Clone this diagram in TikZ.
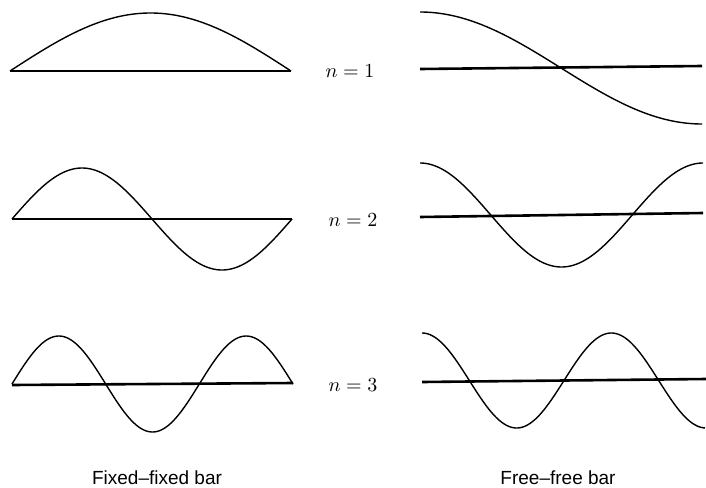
\documentclass[tikz,border=0pt]{standalone}
\usepackage{fontspec}
\newfontfamily\barfont[Ligatures=TeX]{Liberation Sans}

\begin{document}
\begin{tikzpicture}[x=0.5pt, y=-0.5pt,
				bar/.style={line width=1.3pt},   % Balkenachse
				mode/.style={line width=0.7pt, samples=150, smooth},   % Eigenform
				nlab/.style={anchor=base, font=\normalsize},
				caption/.style={anchor=base, font=\barfont\fontsize{9.5}{11}\selectfont}]
				% Bildbereich
				\useasboundingbox (0,0) rectangle (706,487);
				% Fest-fest: Achsen
				\draw[bar] (10,71) -- (291,71);
				\draw[bar] (12,219) -- (292,219);
				\draw[bar] (12,385) -- (293,383);
				% Fest-fest: Eigenformen
				\draw[mode,domain=10:291] plot (\x, {71-58*sin((\x-10)/281*180)});
				\draw[mode,domain=12:292] plot (\x, {219-51*sin((\x-12)/280*360)});
				\draw[mode,domain=12:293] plot (\x, {384-48*sin((\x-12)/281*540)});
				% Frei-frei: Achsen
				\draw[bar] (420,69) -- (702,66);
				\draw[bar] (420,217) -- (703,213);
				\draw[bar] (422,382) -- (706,379);
				% Frei-frei: Eigenformen
				\draw[mode,domain=420:702] plot (\x, {68-56*cos((\x-420)/282*180)});
				\draw[mode,domain=420:703] plot (\x, {215-52*cos((\x-420)/283*360)});
				\draw[mode,domain=422:705] plot (\x, {380.5-47.5*cos((\x-422)/284*540)});
				% Beschriftung
				\node[nlab] (n1) at (350,77) {$n = 1$};
				\node[nlab] (n2) at (353,226) {$n = 2$};
				\node[nlab] (n3) at (353,391) {$n = 3$};
				\node[caption] (fixed) at (157,484) {Fixed\textendash fixed bar};
				\node[caption] (free) at (558,484) {Free\textendash free bar};
			\end{tikzpicture}
\end{document}
